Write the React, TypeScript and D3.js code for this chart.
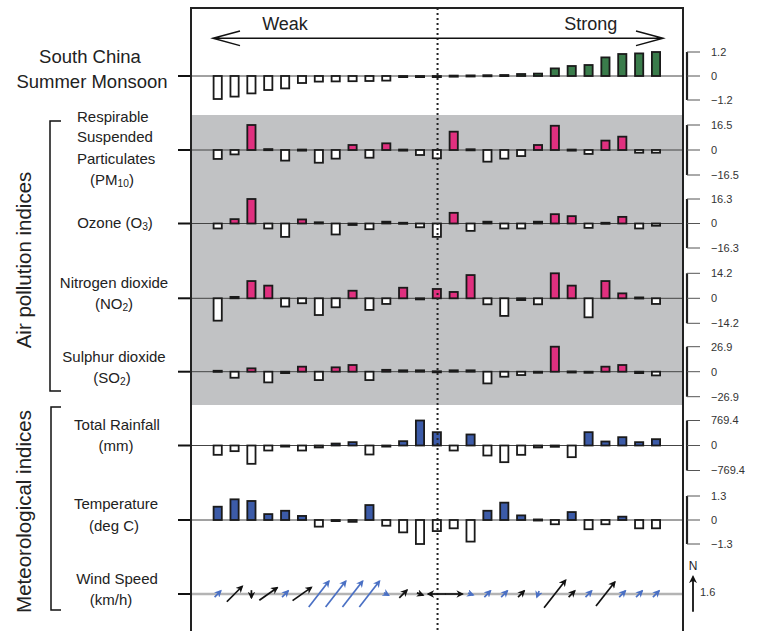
import React, { useEffect, useRef } from 'react'
import * as d3 from 'd3'

// 27 periods ranked from weakest to strongest monsoon
const stations = ['1', '2', '3', '4', '5', '6', '7', '8', '9', '10', '11', '12', '13', '14', '15', '16', '17', '18', '19', '20', '21', '22', '23', '24', '25', '26', '27']

const monsoon = [-1.15, -1.03, -0.87, -0.7, -0.62, -0.35, -0.28, -0.27, -0.26, -0.25, -0.23, -0.05, -0.04, -0.02, 0.02, 0.03, 0.04, 0.05, 0.1, 0.12, 0.38, 0.5, 0.55, 0.93, 1.1, 1.13, 1.2]
const pm10 = [-5.9, -2.9, 16.5, 0.6, -7.0, 0.3, -8.4, -5.7, 3.3, -5.1, 4.4, 0.3, -3.3, -5.5, 12.1, 0.5, -7.7, -5.7, -4.0, 3.3, 16.0, 0.3, -2.6, 6.2, 8.8, -1.8, -1.8]
const ozone = [-3.3, 2.9, 16.3, -3.3, -8.9, 2.7, 0.8, -7.3, -1.0, -3.8, 1.2, 0.5, -2.5, -8.9, 7.1, -4.9, 1.2, -3.3, -3.3, 1.2, 6.2, 4.9, -2.9, 0.5, 4.4, -3.3, -1.5]
const no2 = [-12.7, 0.8, 9.8, 7.2, -4.7, -2.8, -9.5, -5.1, 4.3, -6.6, -3.2, 6.0, -0.5, 5.3, 3.6, 13.2, -3.4, -10.0, -1.0, -3.4, 14.2, 7.2, -10.8, 9.8, 2.8, 0.5, -3.2]
const so2 = [1.0, -6.5, 3.6, -11.5, -1.5, 5.4, -9.0, 4.7, 7.2, -9.0, 2.0, 1.5, 1.5, 0.5, 1.5, 1.5, -12.6, -5.4, -3.6, -1.0, 26.9, 0.3, -0.8, 5.4, 7.2, -1.5, -4.0]
const rainfall = [-287, -174, -564, -154, -30, -154, -60, 60, 103, -277, -20, 133, 769.4, 410, -154, 339, -308, -513, -287, -60, -40, -359, 410, 123, 256, 103, 195]
const temperature = [0.72, 1.12, 1.03, 0.32, 0.5, 0.22, -0.36, -0.03, -0.1, 0.81, -0.31, -0.67, -1.3, -0.6, -0.45, -1.17, 0.5, 0.94, 0.25, 0.03, -0.23, 0.43, -0.5, -0.23, 0.18, -0.45, -0.45]

// wind: speed (km/h), direction the arrow points (deg from north), significant -> black
const windSpeed = [0.4, 1.0, 0.35, 1.0, 0.4, 1.05, 1.5, 1.5, 1.5, 1.5, 0.25, 0.5, 0.3, 0.8, 0.8, 0.25, 0.4, 0.4, 0.4, 0.3, 1.6, 0.4, 0.4, 1.4, 0.4, 0.4, 0.4]
const windDir = [45, 45, 180, 55, 45, 55, 38, 38, 38, 38, 120, 45, 110, 270, 90, 110, 45, 45, 45, 200, 38, 45, 45, 38, 45, 45, 45]
const windSig = [false, true, true, true, false, true, false, false, false, false, false, true, true, true, true, false, false, false, true, false, true, true, false, true, false, false, false]
const windRef = 1.6

// axis limits shown on the right
const axisMax = [1.2, 16.5, 16.3, 14.2, 26.9, 769.4, 1.3]

const GREEN = '#3a7c4b'
const PINK = '#e0307f'
const BLUE = '#3c5ba8'
const WIND_BLUE = '#4a70c4'

export default function App() {
    const ref = useRef<SVGSVGElement>(null)

    useEffect(() => {
        const svg = d3.select(ref.current)
        svg.selectAll('*').remove()

        const font = 'Liberation Sans, Arial, Helvetica, sans-serif'
        const panel = { left: 191, right: 683, top: 8, bottom: 640 }

        const rows = [
            { values: monsoon, max: axisMax[0], base: 76, half: 24, fill: GREEN },
            { values: pm10, max: axisMax[1], base: 150, half: 25, fill: PINK },
            { values: ozone, max: axisMax[2], base: 223.5, half: 24.5, fill: PINK },
            { values: no2, max: axisMax[3], base: 298.3, half: 25, fill: PINK },
            { values: so2, max: axisMax[4], base: 371.7, half: 25, fill: PINK },
            { values: rainfall, max: axisMax[5], base: 445.5, half: 25, fill: BLUE },
            { values: temperature, max: axisMax[6], base: 520, half: 24, fill: BLUE },
        ]
        const windBase = 594

        const x = d3.scalePoint<string>().domain(stations).range([217.7, 656])
        const barW = 8.2

        // shaded air pollution block
        svg.append('rect')
            .attr('x', panel.left).attr('y', 115)
            .attr('width', panel.right - panel.left).attr('height', 290)
            .attr('fill', '#c1c2c4')

        // baselines
        rows.forEach(r => {
            svg.append('line')
                .attr('x1', panel.left).attr('x2', panel.right)
                .attr('y1', r.base).attr('y2', r.base)
                .attr('stroke', '#444').attr('stroke-width', 1)
        })
        svg.append('line')
            .attr('x1', panel.left).attr('x2', panel.right)
            .attr('y1', windBase).attr('y2', windBase)
            .attr('stroke', '#b4b4b4').attr('stroke-width', 2.5)

        // bars
        rows.forEach(r => {
            const y = d3.scaleLinear().domain([-r.max, r.max]).range([r.base + r.half, r.base - r.half])
            svg.append('g')
                .selectAll('rect')
                .data(r.values)
                .enter()
                .append('rect')
                .attr('x', (d, i) => (x(stations[i]) as number) - barW / 2)
                .attr('width', barW)
                .attr('y', d => Math.min(y(d), y(0)))
                .attr('height', d => Math.max(1.1, Math.abs(y(d) - y(0))))
                .attr('fill', d => d > 0 ? r.fill : '#fff')
                .attr('stroke', '#1a1a1a')
                .attr('stroke-width', 1.8)

            // right axis
            const ax = svg.append('g')
            ax.append('line')
                .attr('x1', 687).attr('x2', 687)
                .attr('y1', y(r.max)).attr('y2', y(-r.max))
                .attr('stroke', '#222').attr('stroke-width', 2.2)
            const ticks = [r.max, 0, -r.max]
            ax.selectAll('line.tick').data(ticks).enter().append('line')
                .attr('class', 'tick')
                .attr('x1', 687).attr('x2', 700)
                .attr('y1', d => y(d)).attr('y2', d => y(d))
                .attr('stroke', '#555').attr('stroke-width', 1)
            ax.selectAll('text').data(ticks).enter().append('text')
                .attr('x', 711).attr('y', d => y(d)).attr('dy', '0.35em')
                .attr('font-family', font).attr('font-size', 11).attr('fill', '#333')
                .text(d => d === 0 ? '0' : d3.format('.1f')(d))

            // left tick
            svg.append('line')
                .attr('x1', 178).attr('x2', panel.left)
                .attr('y1', r.base).attr('y2', r.base)
                .attr('stroke', '#111').attr('stroke-width', 2)
        })
        svg.append('line')
            .attr('x1', 178).attr('x2', panel.left)
            .attr('y1', windBase).attr('y2', windBase)
            .attr('stroke', '#111').attr('stroke-width', 2)

        // centre dotted line
        svg.append('line')
            .attr('x1', x(stations[13]) as number + 0.7).attr('x2', x(stations[13]) as number + 0.7)
            .attr('y1', panel.top).attr('y2', panel.bottom)
            .attr('stroke', '#222').attr('stroke-width', 2).attr('stroke-dasharray', '2,3')

        // panel frame
        svg.append('path')
            .attr('d', `M${panel.left},${panel.bottom}V${panel.top}H${panel.right}V${panel.bottom}`)
            .attr('fill', 'none').attr('stroke', '#222').attr('stroke-width', 2)

        // arrowheads
        const defs = svg.append('defs')
        const marker = (id: string, color: string, size: number) => {
            defs.append('marker')
                .attr('id', id)
                .attr('viewBox', '0 0 10 10')
                .attr('refX', 8).attr('refY', 5)
                .attr('markerUnits', 'userSpaceOnUse')
                .attr('markerWidth', size).attr('markerHeight', size)
                .attr('orient', 'auto')
                .append('path')
                .attr('d', 'M0,0L10,5L0,10L3,5Z')
                .attr('fill', color)
        }
        marker('headBlack', '#111', 7.5)
        marker('headBlue', WIND_BLUE, 7.5)
        marker('headRef', '#111', 8)

        // wind arrows
        const len = d3.scaleLinear().domain([0, windRef]).range([0, 35])
        windSpeed.forEach((s, i) => {
            const a = windDir[i] * Math.PI / 180
            const L = len(s)
            const dx = Math.sin(a) * L
            const dy = -Math.cos(a) * L
            const cx = x(stations[i]) as number
            svg.append('line')
                .attr('x1', cx - dx / 2).attr('y1', windBase - dy / 2)
                .attr('x2', cx + dx / 2).attr('y2', windBase + dy / 2)
                .attr('stroke', windSig[i] ? '#111' : WIND_BLUE)
                .attr('stroke-width', 1.7)
                .attr('marker-end', `url(#${windSig[i] ? 'headBlack' : 'headBlue'})`)
        })

        // reference arrow
        svg.append('line')
            .attr('x1', 693).attr('x2', 693)
            .attr('y1', 611.7).attr('y2', 611.7 - len(windRef))
            .attr('stroke', '#111').attr('stroke-width', 1.8)
            .attr('marker-end', 'url(#headRef)')
        svg.append('text').attr('x', 693).attr('y', 570).attr('text-anchor', 'middle')
            .attr('font-family', font).attr('font-size', 12).attr('fill', '#222').text('N')
        svg.append('text').attr('x', 700).attr('y', 596)
            .attr('font-family', font).attr('font-size', 11).attr('fill', '#333').text('1.6')

        // weak / strong arrow
        svg.append('path')
            .attr('d', 'M213,38.3H663M240,31L213,38.3L240,45.6M636,31L663,38.3L636,45.6')
            .attr('fill', 'none').attr('stroke', '#111').attr('stroke-width', 1.5)
        svg.append('text').attr('x', 285).attr('y', 29.5).attr('text-anchor', 'middle')
            .attr('font-family', font).attr('font-size', 18).attr('fill', '#222').text('Weak')
        svg.append('text').attr('x', 590.7).attr('y', 29.5).attr('text-anchor', 'middle')
            .attr('font-family', font).attr('font-size', 18).attr('fill', '#222').text('Strong')

        // left labels
        const label = (txt: string, lx: number, ly: number, size = 15, anchor = 'middle', sub?: string, tail?: string) => {
            const t = svg.append('text').attr('x', lx).attr('y', ly).attr('text-anchor', anchor)
                .attr('font-family', font).attr('font-size', size).attr('fill', '#222')
            t.append('tspan').text(txt)
            if (sub) {
                t.append('tspan').attr('font-size', size * 0.68).attr('dy', 2).text(sub)
                t.append('tspan').attr('dy', -2).text(tail || '')
            }
        }
        label('South China', 90, 63, 18.5)
        label('Summer Monsoon', 92, 88, 18.5)
        label('Respirable', 77, 121.5, 15, 'start')
        label('Suspended', 77, 142, 15, 'start')
        label('Particulates', 77, 163.5, 15, 'start')
        label('(PM', 112, 185, 15, 'middle', '10', ')')
        label('Ozone (O', 115, 228, 15, 'middle', '3', ')')
        label('Nitrogen dioxide', 114, 288)
        label('(NO', 114, 308.5, 15, 'middle', '2', ')')
        label('Sulphur dioxide', 114, 361.5)
        label('(SO', 112, 383, 15, 'middle', '2', ')')
        label('Total Rainfall', 117, 429.5)
        label('(mm)', 116, 451)
        label('Temperature', 116, 508.5)
        label('(deg C)', 114, 531)
        label('Wind Speed', 117, 583.5)
        label('(km/h)', 111, 605)

        // group brackets
        svg.append('path')
            .attr('d', 'M61,121H50V391H61M61,407H51V610H61')
            .attr('fill', 'none').attr('stroke', '#111').attr('stroke-width', 1.5)
        svg.append('text')
            .attr('transform', 'translate(31,260) rotate(-90)')
            .attr('text-anchor', 'middle')
            .attr('font-family', font).attr('font-size', 20.5).attr('fill', '#222')
            .text('Air pollution indices')
        svg.append('text')
            .attr('transform', 'translate(31,511.5) rotate(-90)')
            .attr('text-anchor', 'middle')
            .attr('font-family', font).attr('font-size', 20.5).attr('fill', '#222')
            .text('Meteorological indices')
    }, [])

    return (
        <svg ref={ref} width={757} height={631} style={{ position: 'absolute', left: 0, top: 0, background: '#fff' }} />
    )
}
